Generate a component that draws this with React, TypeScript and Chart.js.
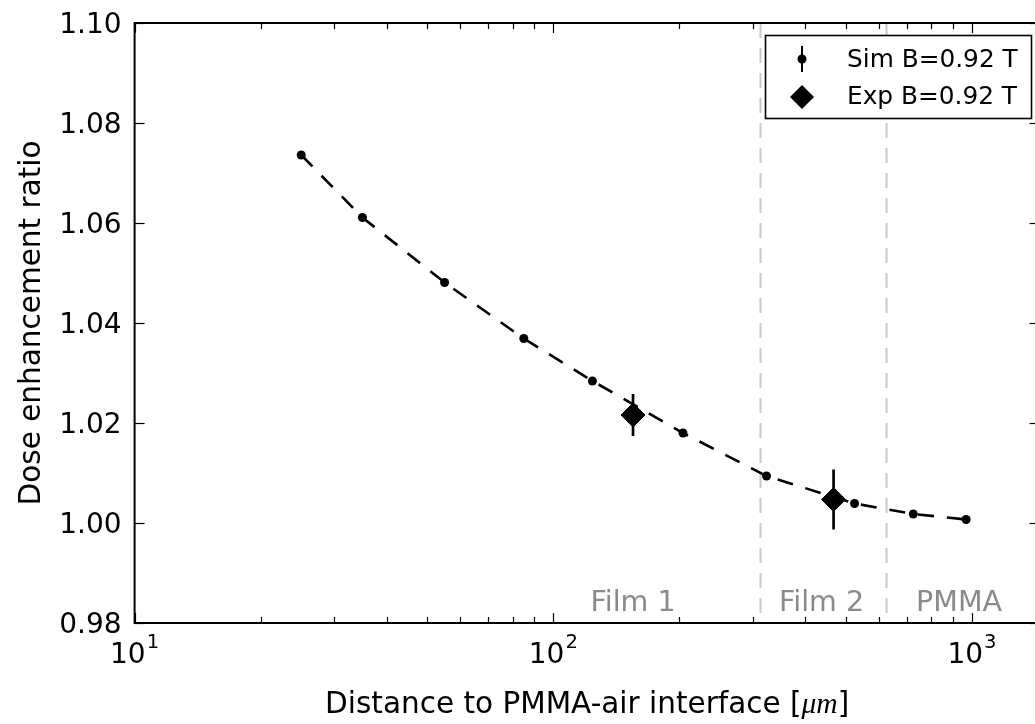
import React, { useEffect, useRef } from "react";
import { Chart, registerables } from "chart.js";

Chart.register(...registerables);

// ---------- data ----------
const simX = [25, 35, 55, 85, 124, 204, 323, 524, 724, 968];
const simY = [1.0736, 1.0611, 1.0481, 1.0369, 1.0284, 1.018, 1.0094, 1.0039, 1.0018, 1.0007];
const simErr = [0.0004, 0.0004, 0.0004, 0.0004, 0.0004, 0.0004, 0.0004, 0.0004, 0.0004, 0.0004];
const expX = [155, 467];
const expY = [1.0216, 1.0047];
const expErr = [0.0042, 0.006];
const boundaryX = [312, 624];
const regionLabels = ["Film 1", "Film 2", "PMMA"];
const regionLabelX = [155, 437, 931];
const regionLabelY = 0.9824;
const yTicks = [0.98, 1.0, 1.02, 1.04, 1.06, 1.08, 1.1];
const xMajorExp = [1, 2, 3];
const seriesLabels = ["Sim B=0.92 T", "Exp B=0.92 T"];
const xTitle = ["Distance to PMMA-air interface [", "\u03bcm", "]"];
const yTitle = "Dose enhancement ratio";
const X_MIN = 10;
const X_MAX = 1450;
const Y_MIN = 0.98;
const Y_MAX = 1.1;

const SANS = '"DejaVu Sans", sans-serif';

const customPlugin = {
  id: "customDraw",
  beforeDatasetsDraw(chart: any) {
    const { ctx, chartArea: a, scales } = chart;
    const x = scales.x;
    const y = scales.y;
    ctx.save();
    ctx.strokeStyle = "#c8c8c8";
    ctx.lineWidth = 2;
    ctx.setLineDash([15, 10]);
    boundaryX.forEach((v) => {
      const px = Math.round(x.getPixelForValue(v)) + 0.5;
      ctx.beginPath();
      ctx.moveTo(px, a.top);
      ctx.lineTo(px, a.bottom);
      ctx.stroke();
    });
    ctx.setLineDash([]);
    ctx.fillStyle = "#8a8a8a";
    ctx.font = `28.5px ${SANS}`;
    ctx.textAlign = "center";
    ctx.textBaseline = "alphabetic";
    regionLabels.forEach((t, i) => {
      ctx.fillText(t, x.getPixelForValue(regionLabelX[i]), y.getPixelForValue(regionLabelY));
    });
    ctx.restore();
  },
  afterDatasetsDraw(chart: any) {
    const { ctx, scales } = chart;
    const x = scales.x;
    const y = scales.y;
    ctx.save();
    ctx.strokeStyle = "#000";
    ctx.lineWidth = 2;
    simX.forEach((v, i) => {
      const px = x.getPixelForValue(v);
      ctx.beginPath();
      ctx.moveTo(px, y.getPixelForValue(simY[i] - simErr[i]));
      ctx.lineTo(px, y.getPixelForValue(simY[i] + simErr[i]));
      ctx.stroke();
    });
    ctx.lineWidth = 2.7;
    expX.forEach((v, i) => {
      const px = x.getPixelForValue(v);
      ctx.beginPath();
      ctx.moveTo(px, y.getPixelForValue(expY[i] - expErr[i]));
      ctx.lineTo(px, y.getPixelForValue(expY[i] + expErr[i]));
      ctx.stroke();
    });
    ctx.restore();
  },
  afterDraw(chart: any) {
    const { ctx, chartArea: a, scales } = chart;
    const x = scales.x;
    const y = scales.y;
    ctx.save();

    // ticks
    ctx.strokeStyle = "#000";
    ctx.lineWidth = 1.2;
    const MAJ = 10;
    const MIN = 6;
    const vline = (px: number, y0: number, y1: number) => {
      ctx.beginPath();
      ctx.moveTo(px, y0);
      ctx.lineTo(px, y1);
      ctx.stroke();
    };
    const hline = (py: number, x0: number, x1: number) => {
      ctx.beginPath();
      ctx.moveTo(x0, py);
      ctx.lineTo(x1, py);
      ctx.stroke();
    };
    for (let e = 1; e <= 3; e++) {
      for (let m = 1; m <= 9; m++) {
        const v = m * Math.pow(10, e);
        if (v < X_MIN || v > X_MAX) continue;
        const px = Math.round(x.getPixelForValue(v)) + 0.5;
        const len = m === 1 ? MAJ : MIN;
        vline(px, a.bottom, a.bottom - len);
        vline(px, a.top, a.top + len);
      }
    }
    yTicks.forEach((v) => {
      const py = Math.round(y.getPixelForValue(v)) + 0.5;
      hline(py, a.left, a.left + MAJ);
      hline(py, a.right, a.right - MAJ);
    });

    // spines
    ctx.lineWidth = 2;
    ctx.strokeRect(a.left, a.top, a.right - a.left, a.bottom - a.top);

    // y tick labels
    ctx.fillStyle = "#000";
    ctx.font = `28px ${SANS}`;
    ctx.textAlign = "right";
    ctx.textBaseline = "alphabetic";
    yTicks.forEach((v) => {
      ctx.fillText(v.toFixed(2), a.left - 13, y.getPixelForValue(v) + 9.5);
    });

    // x tick labels 10^n
    ctx.textAlign = "left";
    xMajorExp.forEach((e) => {
      const px = x.getPixelForValue(Math.pow(10, e));
      ctx.font = `28px ${SANS}`;
      const wBase = ctx.measureText("10").width;
      ctx.font = `19.6px ${SANS}`;
      const wSup = ctx.measureText(String(e)).width;
      const start = px - (wBase + wSup + 1) / 2;
      ctx.font = `28px ${SANS}`;
      ctx.fillText("10", start, a.bottom + 40);
      ctx.font = `19.6px ${SANS}`;
      ctx.fillText(String(e), start + wBase + 1, a.bottom + 25);
    });

    // x title
    const fonts = [`29.5px ${SANS}`, `italic 29.5px "Liberation Serif", serif`, `29.5px ${SANS}`];
    const widths = xTitle.map((t, i) => {
      ctx.font = fonts[i];
      return ctx.measureText(t).width;
    });
    const total = widths.reduce((s, w) => s + w, 0);
    let cx = (a.left + a.right) / 2 - total / 2;
    xTitle.forEach((t, i) => {
      ctx.font = fonts[i];
      ctx.fillText(t, cx, a.bottom + 90);
      cx += widths[i];
    });

    // y title
    ctx.save();
    ctx.translate(40, (a.top + a.bottom) / 2);
    ctx.rotate(-Math.PI / 2);
    ctx.font = `29.5px ${SANS}`;
    ctx.textAlign = "center";
    ctx.fillText(yTitle, 0, 0);
    ctx.restore();

    // legend
    const lx = a.right - 274.6;
    const ly = a.top + 12;
    const lw = 266;
    const lh = 83;
    ctx.fillStyle = "#fff";
    ctx.fillRect(lx, ly, lw, lh);
    ctx.strokeStyle = "#000";
    ctx.lineWidth = 1.6;
    ctx.strokeRect(lx + 0.5, ly + 0.5, lw, lh);
    const mx = lx + 37;
    const r1 = ly + 24;
    const r2 = ly + 62;
    ctx.fillStyle = "#000";
    ctx.lineWidth = 2;
    vline(mx, r1 - 13, r1 + 13);
    ctx.beginPath();
    ctx.arc(mx, r1, 4.5, 0, Math.PI * 2);
    ctx.fill();
    ctx.beginPath();
    ctx.moveTo(mx - 12, r2);
    ctx.lineTo(mx, r2 - 12);
    ctx.lineTo(mx + 12, r2);
    ctx.lineTo(mx, r2 + 12);
    ctx.closePath();
    ctx.fill();
    ctx.font = `24.8px ${SANS}`;
    ctx.textAlign = "left";
    ctx.fillText(seriesLabels[0], lx + 82, r1 + 8);
    ctx.fillText(seriesLabels[1], lx + 82, r2 + 7);

    ctx.restore();
  },
};

const CANVAS_W = 1060;
const CANVAS_H = 724;

export default function App() {
  const ref = useRef<HTMLCanvasElement>(null);
  useEffect(() => {
    document.body.style.margin = "0";
    const canvas = ref.current!;
    const areaLeft = 134.6;
    const areaRight = 1039.6;
    const areaTop = 23;
    const areaBottom = 623;
    const chart = new Chart(canvas, {
      type: "scatter",
      data: {
        datasets: [
          {
            label: seriesLabels[1],
            data: expX.map((v, i) => ({ x: v, y: expY[i] })),
            showLine: false,
            pointStyle: "rectRot",
            pointRadius: 12,
            pointBackgroundColor: "#000",
            pointBorderColor: "#000",
            pointBorderWidth: 1,
            order: 0,
          },
          {
            label: seriesLabels[0],
            data: simX.map((v, i) => ({ x: v, y: simY[i] })),
            showLine: true,
            borderColor: "#000",
            borderWidth: 2.6,
            borderDash: [16, 13],
            tension: 0,
            pointRadius: 4.5,
            pointBackgroundColor: "#000",
            pointBorderColor: "#000",
            pointBorderWidth: 0,
            order: 1,
          },
        ],
      },
      options: {
        animation: false,
        responsive: false,
        events: [],
        layout: {
          autoPadding: false,
          padding: {
            left: areaLeft,
            right: CANVAS_W - areaRight,
            top: areaTop,
            bottom: CANVAS_H - areaBottom,
          },
        },
        plugins: {
          legend: { display: false },
          tooltip: { enabled: false },
          title: { display: false },
        },
        scales: {
          x: { type: "logarithmic", min: X_MIN, max: X_MAX, display: false },
          y: { type: "linear", min: Y_MIN, max: Y_MAX, display: false },
        },
      },
      plugins: [customPlugin],
    });
    return () => chart.destroy();
  }, []);
  return (
    <div style={{ width: 1035, height: 724, overflow: "hidden", position: "relative", background: "#fff" }}>
      <canvas
        ref={ref}
        width={CANVAS_W}
        height={CANVAS_H}
        style={{ display: "block", width: CANVAS_W, height: CANVAS_H }}
      />
    </div>
  );
}
